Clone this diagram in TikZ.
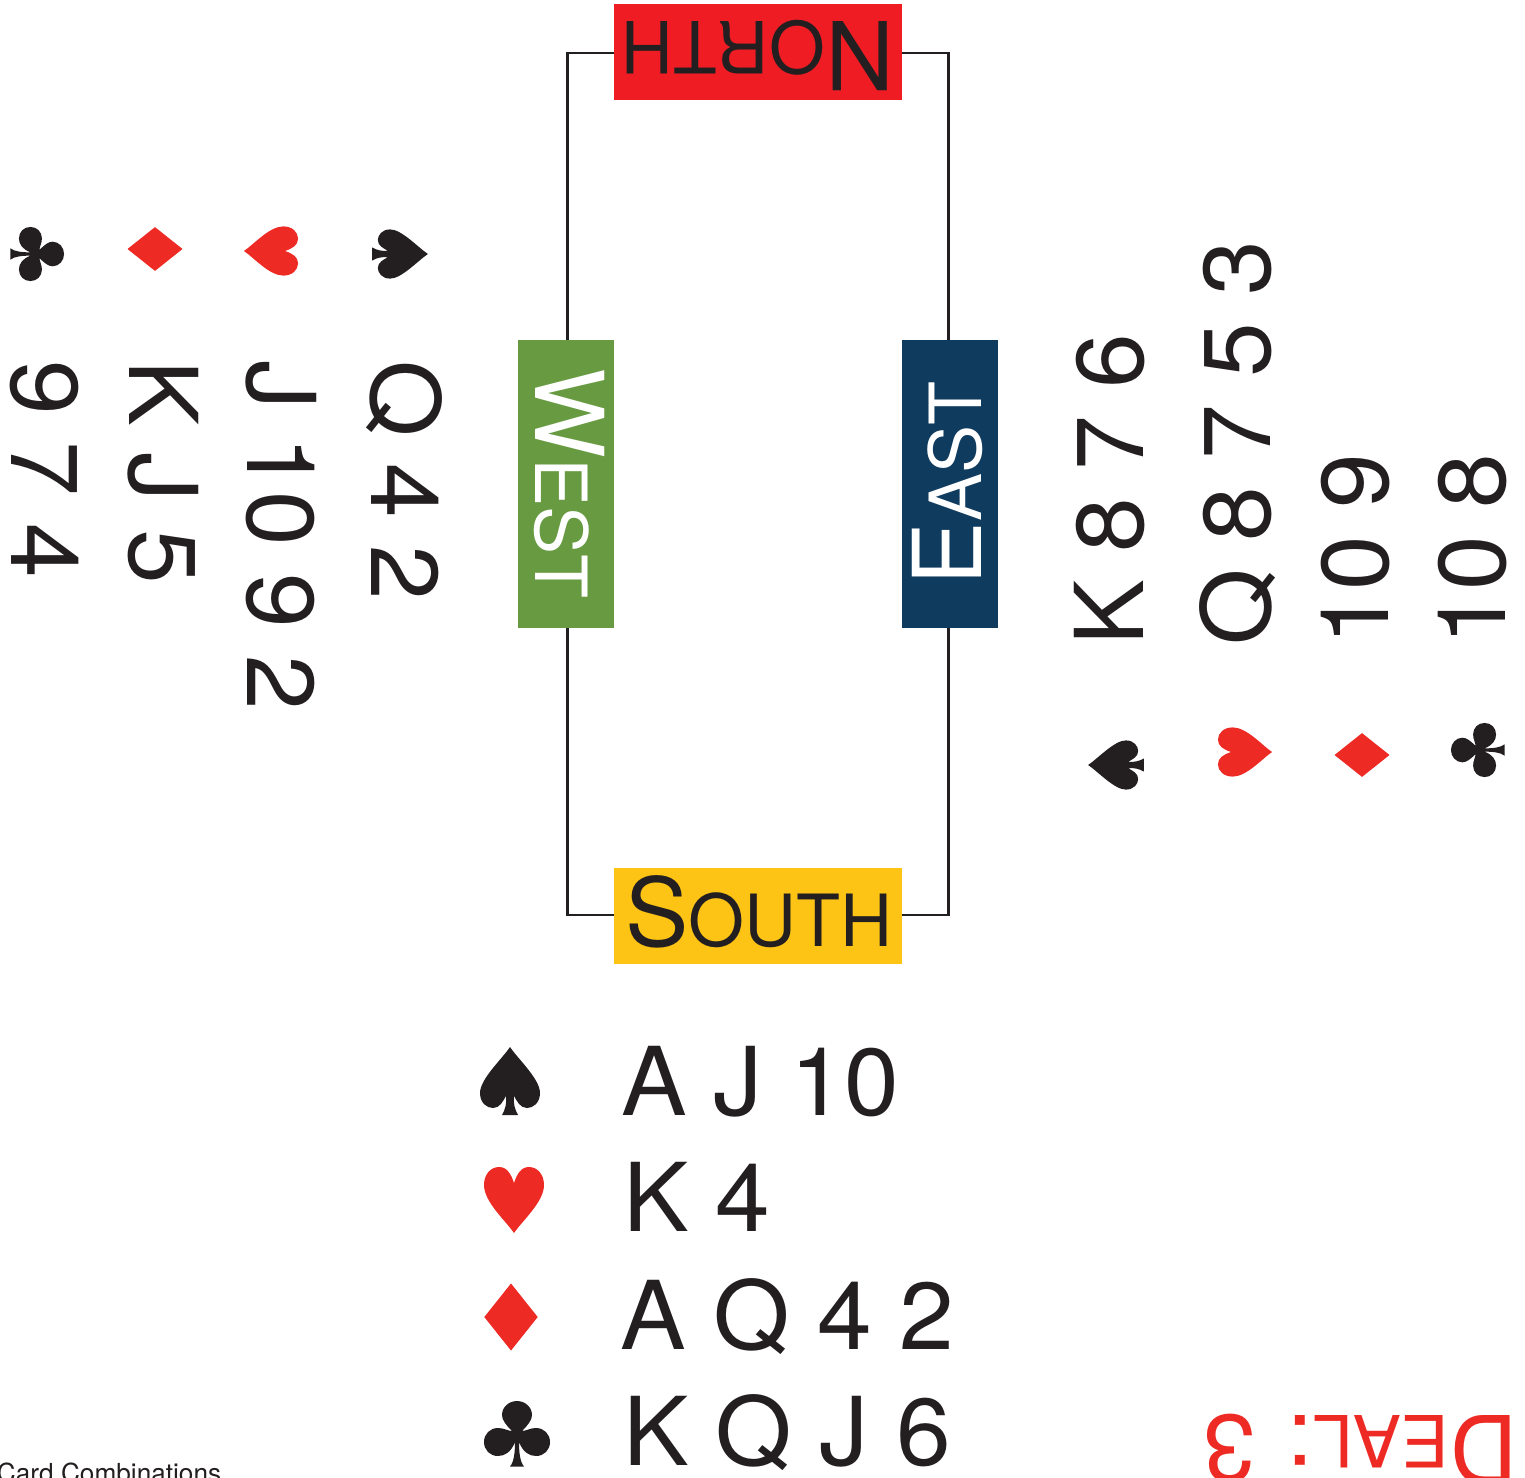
\documentclass[tikz,border=0pt]{standalone}
\usepackage{fontspec}
\setmainfont[Kerning=Off]{TeX Gyre Heros}
\newfontfamily\handfont[Kerning=Off,FakeStretch=1.035]{TeX Gyre Heros}
\definecolor{ink}{HTML}{231F20}
\definecolor{suitred}{HTML}{EE2A24}
\definecolor{northred}{HTML}{EF1C24}
\definecolor{westgreen}{HTML}{689B41}
\definecolor{eastblue}{HTML}{0F3B5F}
\definecolor{southyellow}{HTML}{FDC315}
\newcommand{\bigtxt}{\fontsize{95}{95}\selectfont}
\newcommand{\smtxt}{\fontsize{72}{72}\selectfont}
\tikzset{
  nsbox/.style={rectangle, minimum width=288pt, minimum height=96pt, inner sep=0pt, outer sep=0pt},
  ewbox/.style={rectangle, minimum width=96pt, minimum height=288pt, inner sep=0pt, outer sep=0pt},
  lbl/.style={inner sep=0pt, outer sep=0pt, anchor=base west, text=ink, font=\bigtxt},
  handlbl/.style={lbl, font=\handfont\bigtxt},
  frameline/.style={draw=ink, line width=2.4pt},
  spadeshape/.pic={\fill[pic actions] (0,-34) .. controls (8,-22) and (30,-2) .. (30,12) .. controls (30,22) and (23,27) .. (17,27) .. controls (10,27) and (7,20) .. (4,15) .. controls (3,22) and (5,29) .. (8,34) -- (-8,34) .. controls (-5,29) and (-3,22) .. (-4,15) .. controls (-7,20) and (-10,27) .. (-17,27) .. controls (-23,27) and (-30,22) .. (-30,12) .. controls (-30,-2) and (-8,-22) .. (0,-34) -- cycle;},
  heartshape/.pic={\fill[pic actions] (0,33) .. controls (-8,21) and (-30,2) .. (-30,-15) .. controls (-30,-26) and (-23,-33) .. (-15,-33) .. controls (-7,-33) and (-3,-26) .. (0,-17) .. controls (3,-26) and (7,-33) .. (15,-33) .. controls (23,-33) and (30,-26) .. (30,-15) .. controls (30,2) and (8,21) .. (0,33) -- cycle;},
  diamondshape/.pic={\fill[pic actions] (0,-33.5) -- (26.7,0) -- (0,33.5) -- (-26.7,0) -- cycle;},
  clubshape/.pic={\fill[pic actions] (7,32.5) -- (-7,32.5) .. controls (-3,28) and (-2,18) .. (-2,8) .. controls (-6,18) and (-12,22) .. (-19,22) .. controls (-27,22) and (-33,16) .. (-33,8) .. controls (-33,0) and (-27,-6) .. (-19,-6) .. controls (-13,-6) and (-9,-3) .. (-5,-3) .. controls (-11,-9) and (-15,-14) .. (-15,-19) .. controls (-15,-27) and (-8,-33) .. (0,-33) .. controls (8,-33) and (15,-27) .. (15,-19) .. controls (15,-14) and (11,-9) .. (5,-3) .. controls (9,-3) and (13,-6) .. (19,-6) .. controls (27,-6) and (33,0) .. (33,8) .. controls (33,16) and (27,22) .. (19,22) .. controls (12,22) and (6,18) .. (2,8) .. controls (2,18) and (3,28) .. (7,32.5) -- cycle;},
}
\begin{document}
\begin{tikzpicture}[x=1pt,y=-1pt]
\fill[white] (0,0) rectangle (1525,1477);
\useasboundingbox (0,0) rectangle (1525,1477);
% seat boxes
\node[nsbox, fill=northred] (north) at (758,52) {};
\node[nsbox, fill=southyellow] (south) at (758,916) {};
\node[ewbox, fill=westgreen] (west) at (566,484) {};
\node[ewbox, fill=eastblue] (east) at (950,484) {};
% connectors
\draw[frameline] ([yshift=-1pt]north.west) -| ([xshift=1.5pt]west.north);
\draw[frameline] ([yshift=-1pt]north.east) -| ([xshift=-1.5pt]east.north);
\draw[frameline] ([xshift=1.5pt]west.south) |- ([yshift=1pt]south.west);
\draw[frameline] ([xshift=-1.5pt]east.south) |- ([yshift=1pt]south.east);
% seat labels
\node[lbl, rotate=180] (northlabel) at (894,22) {N{\smtxt ORTH}};
\node[lbl] (southlabel) at (625,946.5) {S{\smtxt OUTH}};
\node[lbl, rotate=-90, text=white] (westlabel) at (535,368.5) {W{\smtxt EST}};
\node[lbl, rotate=90, text=white] (eastlabel) at (981,585) {E{\smtxt AST}};
% south hand
\node[handlbl] (s1) at (621,1115) {A J 10};
\node[handlbl] (s2) at (623,1231) {K 4};
\node[handlbl] (s3) at (620.5,1349) {A Q 4 2};
\node[handlbl] (s4) at (623,1465) {K Q J 6};
\pic[fill=ink] at (510,1081) {spadeshape};
\pic[fill=suitred] at (514,1200) {heartshape};
\pic[fill=suitred] at (511,1317) {diamondshape};
\pic[fill=ink] at (517,1434) {clubshape};
% west hand
\node[handlbl, rotate=-90] (w1) at (371.5,360) {Q 4 2};
\node[handlbl, rotate=-90] (w2) at (247,360) {J 10 9 2};
\node[handlbl, rotate=-90] (w3) at (129,360) {K J 5};
\node[handlbl, rotate=-90] (w4) at (12,360) {9 7 4};
\pic[fill=ink, rotate=-90, scale=.82] at (400,254) {spadeshape};
\pic[fill=suitred, rotate=-90, scale=.82] at (271,251) {heartshape};
\pic[fill=suitred, rotate=-90, scale=.82] at (155,249) {diamondshape};
\pic[fill=ink, rotate=-90, scale=.82] at (37,254) {clubshape};
% east hand
\node[handlbl, rotate=90] (e1) at (1143,645) {K 8 7 6};
\node[handlbl, rotate=90] (e2) at (1270,645) {Q 8 7 5 3};
\node[handlbl, rotate=90] (e3) at (1388,645) {10 9};
\node[handlbl, rotate=90] (e4) at (1505,645) {10 8};
\pic[fill=ink, rotate=90, scale=.82] at (1116,765) {spadeshape};
\pic[fill=suitred, rotate=90, scale=.82] at (1245,752) {heartshape};
\pic[fill=suitred, rotate=90, scale=.82] at (1362,755) {diamondshape};
\pic[fill=ink, rotate=90, scale=.82] at (1478,750) {clubshape};
% deal and footer
\node[lbl, rotate=180, text=suitred] (deal) at (1518,1415) {D{\smtxt EAL}:\hspace{5pt} 3};
\node[lbl, font=\fontsize{26.2}{26.2}\selectfont] (footer) at (-3,1482) {Card Combinations};
\end{tikzpicture}
\end{document}
